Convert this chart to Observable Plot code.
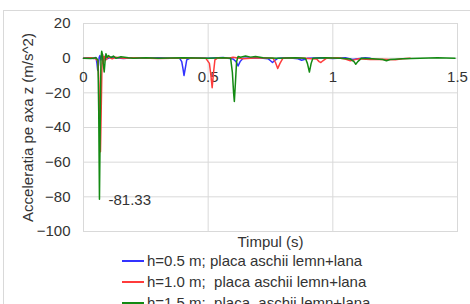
<!DOCTYPE html>
<html>
<head>
<meta charset="utf-8">
<script src="https://cdn.jsdelivr.net/npm/d3@7"></script>
<script src="https://cdn.jsdelivr.net/npm/@observablehq/plot@0.6"></script>
<style>
  html, body { margin: 0; padding: 0; background: #fff; }
  #wrap { position: relative; width: 470px; height: 304px; overflow: hidden; font-family: "Liberation Sans", Arial, sans-serif; }
  #outer { position: absolute; left: 3px; top: 10px; width: 480px; height: 320px; border: 1px solid #d9d9d9; box-sizing: border-box; }
  #chart { position: absolute; left: 0; top: 0; }
  #legend { position: absolute; left: 122px; top: 250px; font-size: 15px; color: #333; }
  .row { height: 21px; display: flex; align-items: center; white-space: pre; }
  .sw { width: 22px; height: 0; border-top: 2px solid; margin-right: 3px; }
</style>
</head>
<body>
<div id="wrap">
  <div id="outer"></div>
  <div id="chart"></div>
  <div id="legend"></div>
</div>
<script>
// Series names
const seriesNames = [
  "h=0.5 m; placa aschii lemn+lana",
  "h=1.0 m;  placa aschii lemn+lana",
  "h=1.5 m;  placa  aschii lemn+lana"
];
const seriesColors = ["#3333ff", "#ff3b3b", "#138a13"];

// [time (s), acceleration (m/s^2)]
const blue = [[0,0],[0.02,0.3],[0.04,-0.2],[0.05,0.4],[0.054,-3],[0.057,-7],[0.06,-4],[0.063,0.5],[0.066,1.5],[0.07,-1],[0.074,0.8],[0.08,0.4],[0.088,1.2],[0.097,-0.3],[0.11,0.6],[0.13,0.2],[0.16,-0.2],[0.2,0.3],[0.25,0],[0.3,0.2],[0.35,-0.1],[0.385,0],[0.394,-2],[0.399,-6],[0.403,-10],[0.408,-6],[0.414,-1],[0.43,0.2],[0.5,0],[0.56,0.4],[0.6,-0.5],[0.612,-2],[0.62,-4.5],[0.628,-2],[0.64,0],[0.7,0.2],[0.74,-0.3],[0.75,-1.5],[0.758,-2.5],[0.766,-1.5],[0.78,0],[0.82,0.3],[0.86,-0.3],[0.875,-1.2],[0.885,-0.8],[0.9,0],[0.95,0.2],[1.0,-0.2],[1.05,0.3],[1.08,-0.8],[1.1,-0.3],[1.13,0.2],[1.15,0]];

const red = [[0,0],[0.03,0.2],[0.05,-0.3],[0.058,-2],[0.062,-15],[0.065,-35],[0.068,-54],[0.071,-30],[0.074,-5],[0.077,2],[0.08,-3],[0.084,1],[0.09,-1],[0.1,0.8],[0.115,-0.4],[0.13,0.5],[0.16,0],[0.2,0.2],[0.3,-0.2],[0.4,0.1],[0.49,0],[0.505,-3],[0.511,-10],[0.516,-17],[0.521,-9],[0.527,-1],[0.54,0.3],[0.58,0],[0.6,0.5],[0.64,-0.3],[0.7,0.2],[0.76,0],[0.77,-2.5],[0.779,-6],[0.788,-3],[0.8,0],[0.85,0.3],[0.9,-0.2],[0.935,-0.5],[0.945,-2],[0.952,-2.5],[0.96,-1.5],[0.975,0],[1.02,0.2],[1.05,-0.5],[1.07,-1.5],[1.085,-1],[1.1,-0.4],[1.15,-0.8],[1.2,-0.6],[1.25,-0.9],[1.28,-0.4],[1.31,0]];

const green = [[0,0],[0.03,-0.2],[0.05,0.2],[0.058,-1],[0.061,-30],[0.064,-81.33],[0.067,-40],[0.07,0],[0.073,4],[0.076,2],[0.079,-3],[0.083,-8],[0.087,-1],[0.09,2.5],[0.095,0.5],[0.1,1.5],[0.11,0.4],[0.12,1.2],[0.13,0],[0.15,0.8],[0.18,0.2],[0.2,0],[0.25,0.3],[0.3,0],[0.4,0.2],[0.5,0],[0.56,0.2],[0.59,0],[0.597,-8],[0.602,-20],[0.605,-25],[0.609,-15],[0.614,-2],[0.62,1],[0.63,0.5],[0.65,1.2],[0.67,0.6],[0.69,1],[0.72,0.3],[0.78,0],[0.85,0.2],[0.89,0],[0.898,-3],[0.906,-8],[0.913,-3],[0.92,0],[0.97,0.2],[1.03,0],[1.07,-0.5],[1.085,-2],[1.092,-3.5],[1.1,-2],[1.115,0],[1.16,-0.3],[1.2,-0.8],[1.215,-1.5],[1.23,-0.8],[1.28,-0.3],[1.35,0],[1.42,0.2],[1.49,0]];

const xTicks = [0, 0.5, 1, 1.5];
const xTickLabels = ["0", "0.5", "1", "1.5"];
const yTicks = [20, 0, -20, -40, -60, -80, -100];
const xTitle = "Timpul (s)";
const yTitle = "Acceleratia pe axa z (m/s^2)";
const minLabel = "-81.33";

const allSeries = [blue, red, green];
const data = allSeries.flatMap((s, i) => s.map(([t, v]) => ({t, v, s: seriesNames[i]})));
const minPt = green.reduce((a, b) => (b[1] < a[1] ? b : a));

const chart = Plot.plot({
  width: 470,
  height: 250,
  marginLeft: 83,
  marginRight: 13,
  marginTop: 23,
  marginBottom: 19,
  style: {fontFamily: "'Liberation Sans', Arial, sans-serif", fontSize: "15px", color: "#333", background: "transparent"},
  x: {domain: [0, 1.5], axis: null},
  y: {domain: [-100, 20], axis: null},
  color: {domain: seriesNames, range: seriesColors},
  marks: [
    Plot.gridY(yTicks, {stroke: "#d9d9d9", strokeOpacity: 1}),
    Plot.gridX(xTicks, {stroke: "#d9d9d9", strokeOpacity: 1}),
    Plot.frame({stroke: "#d9d9d9"}),
    Plot.axisY(yTicks, {tickSize: 0, tickPadding: 13, fontSize: 15, label: null, fill: "#333"}),
    Plot.text(xTicks, {x: d => d, y: 0, dy: 19, text: (d, i) => xTickLabels[i], fontSize: 15, fill: "#333"}),
    Plot.line(data, {x: "t", y: "v", z: "s", stroke: "s", strokeWidth: 1.5, curve: "linear"}),
    Plot.text([minPt], {x: d => d[0], y: d => d[1], text: () => minLabel, textAnchor: "start", dx: 9, dy: 1, fontSize: 15, fill: "#333"}),
    Plot.text([xTitle], {frameAnchor: "bottom", dy: 11, lineAnchor: "middle", fontSize: 15, fill: "#333"}),
    Plot.text([yTitle], {frameAnchor: "left", dx: -55, rotate: -90, textAnchor: "middle", lineAnchor: "middle", fontSize: 15, fill: "#333"})
  ]
});
document.getElementById("chart").appendChild(chart);

const legend = document.getElementById("legend");
seriesNames.forEach((name, i) => {
  const row = document.createElement("div");
  row.className = "row";
  const sw = document.createElement("span");
  sw.className = "sw";
  sw.style.borderTopColor = seriesColors[i];
  const tx = document.createElement("span");
  tx.textContent = name;
  row.appendChild(sw);
  row.appendChild(tx);
  legend.appendChild(row);
});
</script>
</body>
</html>
